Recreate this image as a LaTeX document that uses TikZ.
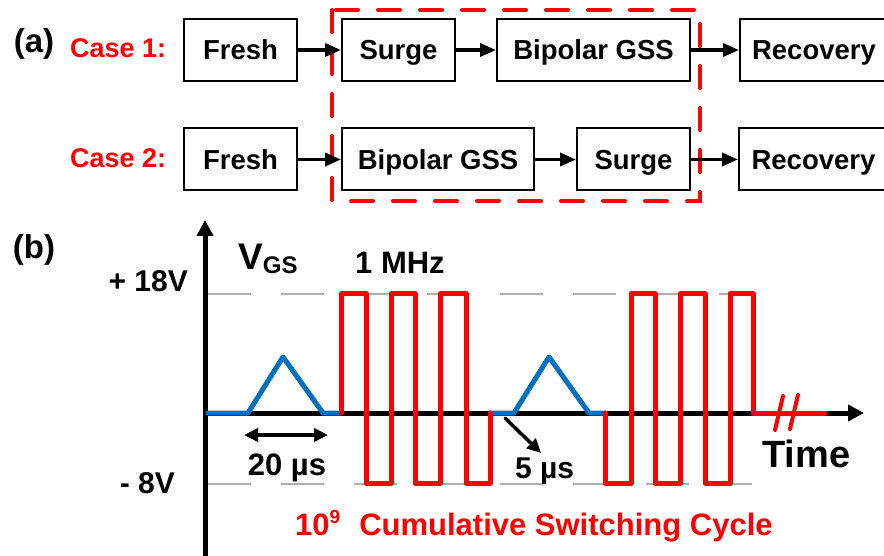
\documentclass[tikz,border=0pt]{standalone}
\usepackage{fontspec}
\setmainfont{Liberation Sans}
\usetikzlibrary{arrows.meta}
\definecolor{wred}{RGB}{255,0,0}
\definecolor{wblue}{RGB}{0,112,192}
\definecolor{gridgray}{RGB}{175,175,175}
\newcommand\myfs[1]{\fontsize{#1}{#1}\selectfont}
\begin{document}
\begin{tikzpicture}[x=1pt,y=-1pt,
  box/.style={draw=black, line width=2pt, inner sep=0pt, minimum height=62pt,
    font=\myfs{27.5}\bfseries, text height=19.5pt, text depth=0pt},
  flow/.style={-{Triangle[length=16pt,width=13pt]}, line width=3.5pt},
  axisline/.style={-{Triangle[length=16pt,width=16pt]}, line width=5pt},
  gridline/.style={gridgray, line width=1.5pt, dash pattern=on 43pt off 30pt},
  wave/.style={line width=5pt, line join=round, line cap=round},
  lbl/.style={inner sep=0pt, font=\bfseries},
  redbox/.style={wred, line width=4pt, line cap=round, dash pattern=on 22pt off 20pt}]
\useasboundingbox (0,0) rectangle (884,556);

% (a) labels
\node[lbl, font=\myfs{33}\bfseries] (la) at (34,44) {(a)};
\node[lbl, wred, font=\myfs{27}\bfseries, anchor=west] (c1) at (70,48) {Case 1:};
\node[lbl, wred, font=\myfs{27}\bfseries, anchor=west] (c2) at (70,158) {Case 2:};

% red dashed frame
\draw[redbox] (332,10) rectangle (700,201);

% boxes row 1
\node[box, minimum width=113pt] (f1) at (240.5,50) {Fresh};
\node[box, minimum width=113pt] (s1) at (398.5,50) {Surge};
\node[box, minimum width=193pt] (b1) at (593.5,50) {Bipolar GSS};
\node[box, minimum width=148pt] (r1) at (814,50) {Recovery};
% boxes row 2
\node[box, minimum width=113pt] (f2) at (240.5,159.5) {Fresh};
\node[box, minimum width=192pt] (b2) at (438,159.5) {Bipolar GSS};
\node[box, minimum width=113pt] (s2) at (633.5,159.5) {Surge};
\node[box, minimum width=149pt] (r2) at (813.5,159.5) {Recovery};

\draw[flow] (f1) -- (s1);
\draw[flow] (s1) -- (b1);
\draw[flow] (b1) -- (r1);
\draw[flow] (f2) -- (b2);
\draw[flow] (b2) -- (s2);
\draw[flow] (s2) -- (r2);

% (b)
\node[lbl, font=\myfs{33}\bfseries] (lb) at (34,250) {(b)};
\node[lbl, font=\myfs{30}\bfseries, anchor=east] (p18) at (188,281) {+ 18V};
\node[lbl, font=\myfs{30}\bfseries, anchor=east] (m8) at (175,483) {- 8V};

% grid lines
\draw[gridline] (208,294) -- (752,294);
\draw[gridline] (208,484) -- (752,484);

% axes
\coordinate (ybot) at (205,556);
\coordinate (ytop) at (205,220);
\coordinate (xl) at (203,413);
\coordinate (xr) at (864,413);
\draw[axisline] (ybot) -- (ytop);
\draw[axisline] (xl) -- (xr);

% blue surge pulses
\draw[wave, wblue] (208,413) -- (248,413) -- (283,357) -- (323,413) -- (341,413);
\draw[wave, wblue] (490,413) -- (514,413) -- (549,357) -- (589,413) -- (605,413);

% red switching waveforms
\draw[wave, wred] (341,413) -- (341,294) -- (366,294) -- (366,483) -- (391,483) -- (391,294)
  -- (415,294) -- (415,483) -- (440,483) -- (440,294) -- (466,294) -- (466,483)
  -- (490,483) -- (490,413);
\draw[wave, wred] (605,413) -- (605,483) -- (631,483) -- (631,294) -- (655,294) -- (655,483)
  -- (680,483) -- (680,294) -- (705,294) -- (705,483) -- (730,483) -- (730,294)
  -- (753,294) -- (753,413) -- (825,413);
% break marks
\draw[wred, line width=4pt, line cap=round] (775,430) -- (783,396);
\draw[wred, line width=4pt, line cap=round] (790,429) -- (798,395);

% labels
\node[lbl, anchor=base west] (vgs) at (238,270) {\myfs{37}V\raisebox{-4pt}{\myfs{24}GS}};
\node[lbl, font=\myfs{31}\bfseries, anchor=base west] (mhz) at (355,273) {1 MHz};

% 20 us arrow
\coordinate (a20l) at (244,435);
\coordinate (a20r) at (328,435);
\draw[{Triangle[length=14pt,width=13pt]}-{Triangle[length=14pt,width=13pt]}, line width=3.5pt] (a20l) -- (a20r);
\node[lbl, font=\myfs{31}\bfseries, anchor=base] (t20) at (287,475) {20 µs};

% 5 us arrow
\coordinate (a5s) at (505,418);
\coordinate (a5e) at (541,453);
\draw[-{Triangle[length=14pt,width=13pt]}, line width=3.5pt, line cap=round] (a5s) -- (a5e);
\node[lbl, font=\myfs{30}\bfseries, anchor=base west] (t5) at (515,478) {5 µs};

\node[lbl, font=\myfs{38}\bfseries, anchor=base west] (time) at (762,467) {Time};

\node[lbl, wred, font=\myfs{31}\bfseries, anchor=base west] (cyc) at (295,535)
  {10\raisebox{12pt}{\myfs{19}9}\hspace{19pt}Cumulative Switching Cycle};
\end{tikzpicture}
\end{document}
